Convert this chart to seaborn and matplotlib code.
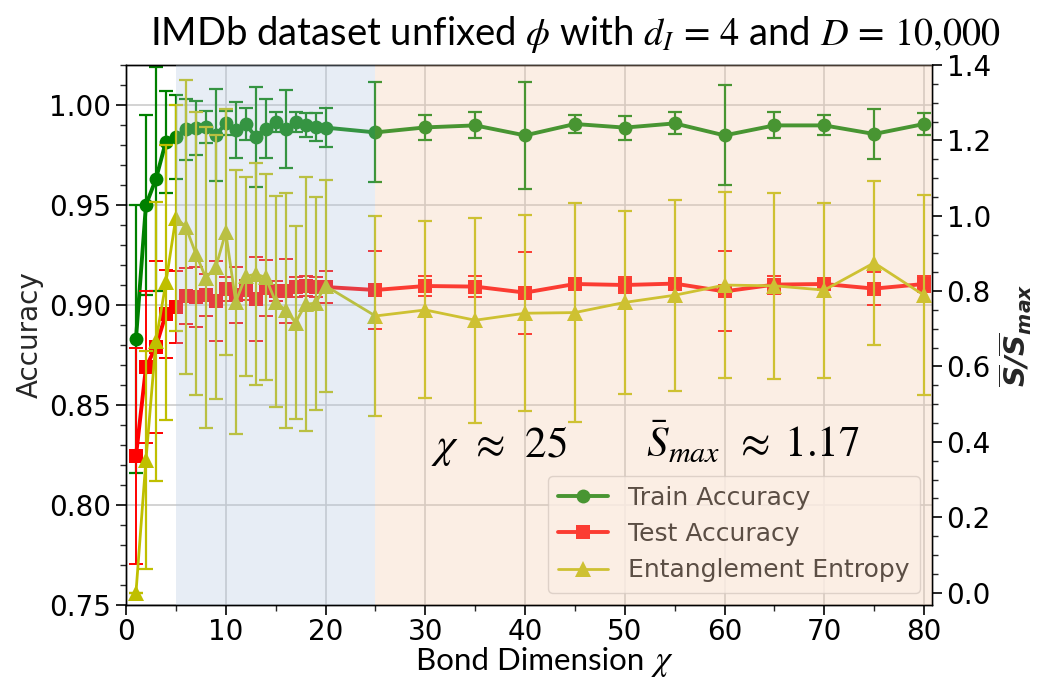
import matplotlib
matplotlib.use("Agg")
import matplotlib.pyplot as plt
import seaborn as sns
from matplotlib.ticker import MultipleLocator

# ---------------- data ----------------
chi = [1, 2, 3, 4, 5, 6, 7, 8, 9, 10, 11, 12, 13, 14, 15, 16, 17, 18, 19, 20,
       25, 30, 35, 40, 45, 50, 55, 60, 65, 70, 75, 80]

train_acc = [0.883, 0.950, 0.963, 0.9817, 0.9838, 0.9878, 0.9887, 0.9892, 0.9848, 0.9908,
             0.9875, 0.9903, 0.9842, 0.9882, 0.9913, 0.9882, 0.9913, 0.9900, 0.9892, 0.9887,
             0.9863, 0.9888, 0.9898, 0.9848, 0.9905, 0.9887, 0.9908, 0.9848, 0.9898, 0.9898,
             0.9855, 0.9905]
train_err = [0.067, 0.045, 0.056, 0.0255, 0.021, 0.0153, 0.0135, 0.008, 0.023, 0.006,
             0.014, 0.008, 0.025, 0.0147, 0.005, 0.0195, 0.005, 0.0058, 0.007, 0.0097,
             0.025, 0.0063, 0.0065, 0.0267, 0.0047, 0.006, 0.0055, 0.025, 0.0065, 0.005,
             0.0124, 0.0053]

test_acc = [0.8245, 0.8688, 0.8792, 0.8955, 0.8992, 0.9045, 0.9042, 0.9050, 0.9022, 0.9080,
            0.9050, 0.9075, 0.9030, 0.9083, 0.9072, 0.9068, 0.9092, 0.9095, 0.9088, 0.9090,
            0.9075, 0.9095, 0.9092, 0.9062, 0.9105, 0.9100, 0.9107, 0.9068, 0.9102, 0.9105,
            0.9082, 0.9105]
test_err = [0.054, 0.038, 0.043, 0.022, 0.018, 0.014, 0.015, 0.0105, 0.020, 0.006,
            0.014, 0.005, 0.021, 0.014, 0.005, 0.016, 0.005, 0.005, 0.005, 0.008,
            0.0193, 0.005, 0.0052, 0.0205, 0.003, 0.004, 0.003, 0.020, 0.0045, 0.003,
            0.0084, 0.004]

entropy = [0.0, 0.352, 0.667, 0.823, 0.995, 0.970, 0.899, 0.8355, 0.863, 0.9565,
           0.7715, 0.839, 0.845, 0.8365, 0.7715, 0.749, 0.7165, 0.765, 0.768, 0.814,
           0.734, 0.750, 0.7227, 0.7413, 0.743, 0.770, 0.789, 0.816, 0.814, 0.8027,
           0.875, 0.789]
entropy_err = [0.0, 0.29, 0.37, 0.364, 0.30, 0.389, 0.375, 0.399, 0.35, 0.327,
               0.351, 0.263, 0.295, 0.273, 0.28, 0.311, 0.255, 0.337, 0.283, 0.282,
               0.266, 0.235, 0.272, 0.26, 0.29, 0.243, 0.254, 0.247, 0.247, 0.232,
               0.217, 0.265]

series_labels = ["Train Accuracy", "Test Accuracy", "Entanglement Entropy"]
regions = [(5, 25), (25, 81)]

# ---------------- style ----------------
sns.set_theme(style="ticks")
plt.rcParams["font.family"] = ["DejaVu Sans"]
plt.rcParams["mathtext.fontset"] = "dejavusans"

W, H = 1046, 678
fig = plt.figure(figsize=(W / 100, H / 100), dpi=100)
ax1 = fig.add_axes([126 / W, 73 / H, 806 / W, 540 / H])
ax2 = ax1.twinx()

green = "#008000"
red = "#ff0000"
yel = "#bfbf00"

sns.lineplot(x=chi, y=train_acc, ax=ax1, color=green, marker="o", markersize=10,
             markeredgewidth=0, linewidth=2.8, label=series_labels[0], legend=False)
ax1.errorbar(chi, train_acc, yerr=train_err, fmt="none", ecolor=green,
             elinewidth=1.6, capsize=5, capthick=1.6)

sns.lineplot(x=chi, y=test_acc, ax=ax1, color=red, marker="s", markersize=9.5,
             markeredgewidth=0, linewidth=2.8, label=series_labels[1], legend=False)
ax1.errorbar(chi, test_acc, yerr=test_err, fmt="none", ecolor=red,
             elinewidth=1.4, capsize=5, capthick=1.4)

sns.lineplot(x=chi, y=entropy, ax=ax2, color=yel, marker="^", markersize=11,
             markeredgewidth=0, linewidth=2.0, label=series_labels[2], legend=False)
ax2.errorbar(chi, entropy, yerr=entropy_err, fmt="none", ecolor=yel,
             elinewidth=1.6, capsize=5, capthick=1.6)

# axes limits / ticks
ax1.set_xlim(0, 80.8)
ax1.set_ylim(0.75, 1.02)
ax2.set_ylim(-0.033, 1.40)

ax1.xaxis.set_major_locator(MultipleLocator(10))
ax1.xaxis.set_minor_locator(MultipleLocator(5))
ax1.yaxis.set_major_locator(MultipleLocator(0.05))
ax1.yaxis.set_minor_locator(MultipleLocator(0.01))
ax2.yaxis.set_major_locator(MultipleLocator(0.2))
ax2.yaxis.set_minor_locator(MultipleLocator(0.05))

for ax in (ax1, ax2):
    ax.tick_params(which="major", direction="out", length=7, width=1.2,
                   labelsize=20, colors="black")
    ax.tick_params(which="minor", direction="out", length=4, width=1.0)
    for s in ax.spines.values():
        s.set_color("black")
        s.set_linewidth(1.0)
ax1.tick_params(axis="x", which="major", pad=2.5)

ax1.grid(True, which="major", color="0.8", linewidth=1.2)
ax2.grid(False)

ax1.set_xlabel("")
ax1.set_ylabel("Accuracy", fontsize=20)
rlabel = ax2.set_ylabel(r"$\mathbfit{\overline{S}/\overline{S}_{max}}$", fontsize=21)

# legend (under the tinted regions)
h1, l1 = ax1.get_legend_handles_labels()
h2, l2 = ax2.get_legend_handles_labels()
leg = ax2.legend(h1 + h2, l1 + l2, loc="lower right", fontsize=18,
                 framealpha=0.8, edgecolor="0.8", fancybox=True)
leg.set_zorder(5)
for t in leg.get_texts():
    t.set_color("#1a1a1a")

# tinted regions drawn over the data
ax2.axvspan(regions[0][0], regions[0][1], color="lightsteelblue", alpha=0.3,
            lw=0, zorder=10)
ax2.axvspan(regions[1][0], regions[1][1], color=(0.95, 0.78, 0.66), alpha=0.3,
            lw=0, zorder=10)

# texts
fig.text(575 / W, 1 - 45 / H,
         r"IMDb dataset unfixed $\phi$ with $d_I\,=\,4$ and $D\,=\,10{,}000$",
         ha="center", va="baseline", fontsize=27.5, family="Lato",
         math_fontfamily="stix", color="black")

# x-axis label built from two pieces (plain words + math chi)
xl1 = fig.text(0, 1 - 670 / H, "Bond Dimension", ha="left", va="baseline",
               fontsize=22.5, family="Lato", color="black")
xl2 = fig.text(0, 1 - 670 / H, r"$\chi$", ha="left", va="baseline",
               fontsize=25, math_fontfamily="stix", color="black")
renderer = fig.canvas.get_renderer()
w1 = xl1.get_window_extent(renderer).width
w2 = xl2.get_window_extent(renderer).width
gap = 7
x0 = 545 - (w1 + gap + w2) / 2
xl1.set_x(x0 / W)
xl2.set_x((x0 + w1 + gap) / W)

fig.text(431 / W, 1 - 457 / H, r"$\chi\;\,\approx\;\,25$",
         ha="left", va="baseline", fontsize=31, math_fontfamily="stix", color="black")
fig.text(646 / W, 1 - 457 / H, r"$\bar{S}_{max}\;\,\approx\;1.17$",
         ha="left", va="baseline", fontsize=31, math_fontfamily="stix", color="black")

try:
    fig.savefig("out.png", dpi=100)
except Exception:
    rlabel.set_text(r"$\mathbf{\overline{S}/\overline{S}_{max}}$")
    fig.savefig("out.png", dpi=100)
